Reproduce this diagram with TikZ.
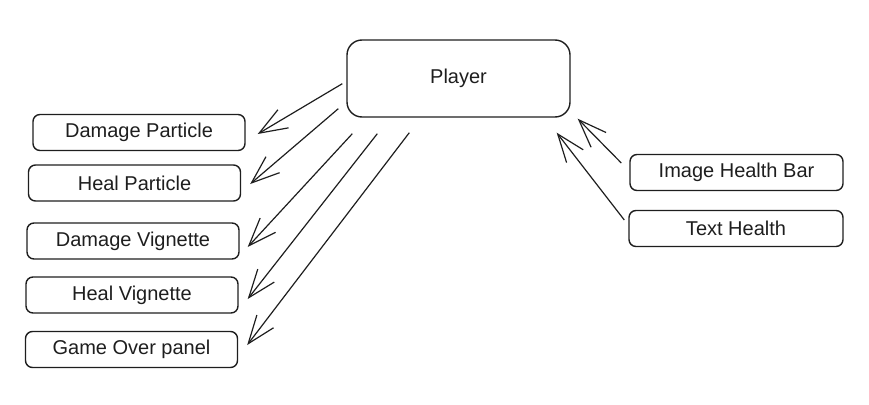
\documentclass[tikz,border=0pt]{standalone}
\usepackage{fontspec}
\setmainfont{Liberation Sans}
\usetikzlibrary{arrows.meta}
\usetikzlibrary{positioning}
\usetikzlibrary{calc}
\definecolor{ink}{HTML}{1E1E1E}
\tikzstyle{line} = [draw=ink, line width=1.2pt, -{Straight Barb[length=28pt,width=21pt,line width=1.2pt]}]

\begin{document}
\begin{tikzpicture}[x=1pt, y=-1pt,
	box/.style={draw=ink, line width=1.4pt, rounded corners=7pt, inner sep=0pt,
		minimum width=212pt, minimum height=36pt,
		font=\fontsize{20}{24}\selectfont, text=ink},
	bigbox/.style={box, rounded corners=15pt, minimum width=223pt, minimum height=77pt}]
	\useasboundingbox (0,0) rectangle (869,404);
	\node [bigbox] (Player) at (458.5,78.5) {Player};
	\node [box] (DP) at (139,132.5) {Damage Particle};
	\node [box] (HP) at (134.5,183) {Heal Particle};
	\node [box] (DV) at (133,241) {Damage Vignette};
	\node [box] (HV) at (132,295) {Heal Vignette};
	\node [box] (GO) at (131.5,349.5) {Game Over panel};
	\node [box, minimum width=213pt] (IH) at (736.5,172.5) {Image Health Bar};
	\node [box, minimum width=214pt] (TH) at (736,228.5) {Text Health};
	%% Arrows
	\path [line] ($(Player.south west)+(-4,-34)$) to ($(DP.east)+(12,1.5)$);
	\path [line] ($(Player.south west)+(-8,-9)$) to ($(HP.east)+(9,1)$);
	\path [line] ($(Player.south west)+(6,16)$) to ($(DV.east)+(8,6)$);
	\path [line] ($(Player.south west)+(31,16)$) to ($(HV.east)+(9,4)$);
	\path [line] ($(Player.south west)+(63,15)$) to ($(GO.east)+(9,-4.5)$);
	%% Health display
	\path [line] ($(IH.west)+(-8,-9.5)$) to ($(Player.south east)+(7,1)$);
	\path [line] ($(TH.west)+(-4,-8.5)$) to ($(Player.south east)+(-14,15)$);
\end{tikzpicture}
\end{document}
